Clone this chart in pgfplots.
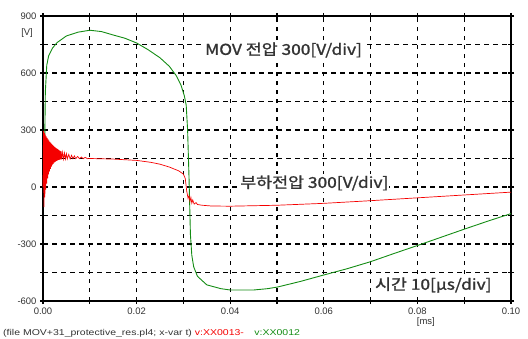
\documentclass[border=0pt]{standalone}
\usepackage{fontspec}
\setmainfont{Liberation Sans}
\newfontfamily\kr{Noto Sans CJK KR}[FakeBold=1.2]
\usepackage{graphicx}
\usepackage{pgfplots}
\pgfplotsset{compat=1.18}
\definecolor{mvgreen}{RGB}{20,140,20}
\definecolor{ldred}{RGB}{245,0,0}
\newcommand\ann[1]{\scalebox{1.16}[1]{\kr #1}}
\begin{document}
\begin{tikzpicture}[x=1bp,y=1bp]
\begin{axis}[
  name=ax,
  scale only axis,
  width=468bp, height=285bp,
  xmin=0, xmax=0.1, ymin=-600, ymax=900,
  xtick={0,0.01,...,0.1001},
  xticklabels={0.00,,0.02,,0.04,,0.06,,0.08,,0.10},
  ytick={-600,-450,...,900},
  yticklabels={-600,,-300,,0,,300,,600,,900},
  /pgf/number format/assume math mode=true,
  ticklabel style={font=\fontsize{9.5}{11}\selectfont, text=black!80},
  tick align=center,
  major tick length=6bp,
  tick style={black, line width=1.3pt},
  grid=major,
  major grid style={black, line width=1.3pt, dash pattern=on 4.5bp off 4.5bp},
  axis line style={black, line width=1.6pt},
  clip=false,
]
\addplot[mvgreen, line width=0.9pt] coordinates {
(0,0) (0.0003,0) (0.0004,300) (0.0005,500) (0.0008,640) (0.0012,690) (0.002,730) (0.003,760)
(0.005,795) (0.0075,815) (0.01,825) (0.0125,818) (0.015,800) (0.0175,783) (0.02,758)
(0.0225,722) (0.025,680) (0.027,635) (0.0285,585) (0.0295,535) (0.0302,480) (0.0306,430)
(0.0309,300) (0.0312,50) (0.0315,-250) (0.0318,-360) (0.0322,-420) (0.033,-470)
(0.035,-515) (0.038,-535) (0.04,-542) (0.045,-542) (0.048,-535) (0.05,-527) (0.055,-497)
(0.06,-463) (0.065,-430) (0.07,-393) (0.075,-350) (0.08,-308) (0.085,-265) (0.09,-222)
(0.095,-180) (0.1,-140)
};
\addplot[ldred, line width=0.7pt] coordinates {
(0,0) (0.0001,295) (0.0002,-106) (0.0003,285) (0.0004,-55) (0.0005,275) (0.0006,-14)
(0.0007,267) (0.0008,18) (0.0009,259) (0.0010,45) (0.0011,251) (0.0012,66) (0.0013,244)
(0.0014,82) (0.0015,238) (0.0016,96) (0.0017,232) (0.0018,107) (0.0019,226) (0.0020,115)
(0.0021,221) (0.0022,122) (0.0023,216) (0.0024,128) (0.0025,211) (0.0026,132) (0.0027,207)
(0.0028,136) (0.0029,203) (0.0030,138) (0.0031,200) (0.0032,141) (0.0033,196) (0.0034,143)
(0.0035,193) (0.0036,144) (0.0037,190) (0.0038,145) (0.0039,187) (0.0040,146) (0.0042,183)
(0.0044,147) (0.0046,179) (0.0048,147) (0.0050,175) (0.0052,148) (0.0055,171) (0.0058,148)
(0.0061,167) (0.0064,149) (0.0067,164) (0.0070,149) (0.0074,161) (0.0078,149) (0.0082,158)
(0.0086,149) (0.0090,156) (0.0095,149) (0.010,150) (0.015,147) (0.02,140)
(0.023,130) (0.025,120) (0.027,105) (0.029,85) (0.0300,68) (0.0304,45) (0.0307,-20)
(0.0310,-60) (0.0312,-45) (0.0314,-75) (0.0316,-55) (0.0318,-85) (0.0320,-68) (0.0323,-90)
(0.0327,-82) (0.033,-92) (0.034,-96) (0.036,-100) (0.04,-101) (0.05,-96) (0.06,-86)
(0.07,-72) (0.08,-57) (0.09,-42) (0.1,-27)
};
\node[anchor=west, fill=white, inner sep=1bp, font=\fontsize{15}{17}\selectfont, text=black!80] at (axis cs:0.0344,721) {\ann{MOV 전압 300[V/div]}};
\node[anchor=west, fill=white, inner sep=1bp, font=\fontsize{15}{17}\selectfont, text=black!80] at (axis cs:0.0419,21) {\ann{부하전압 300[V/div]}};
\node[anchor=west, fill=white, inner sep=1bp, font=\fontsize{15}{17}\selectfont, text=black!80] at (axis cs:0.0707,-516) {\ann{시간 10[μs/div]}};
\node[font=\fontsize{9.5}{11}\selectfont, text=black!80] at (axis cs:-0.0034,810) {[V]};
\node[font=\fontsize{9.5}{11}\selectfont, text=black!80] at (axis cs:0.0818,-710) {[ms]};
\end{axis}
\node[anchor=west, inner sep=0pt, font=\fontsize{8.5}{10}\selectfont, text=black!80] at ([xshift=-40bp,yshift=-32bp]ax.south west)
  {\scalebox{1.24}[1]{(file MOV+31\_protective\_res.pl4; x-var t) \textcolor{ldred}{v:XX0013-}\quad\textcolor{mvgreen}{v:XX0012}}};
\pgfresetboundingbox
\path ([xshift=-43bp,yshift=-37bp]ax.south west) rectangle ([xshift=17bp,yshift=16bp]ax.north east);
\end{tikzpicture}
\end{document}
